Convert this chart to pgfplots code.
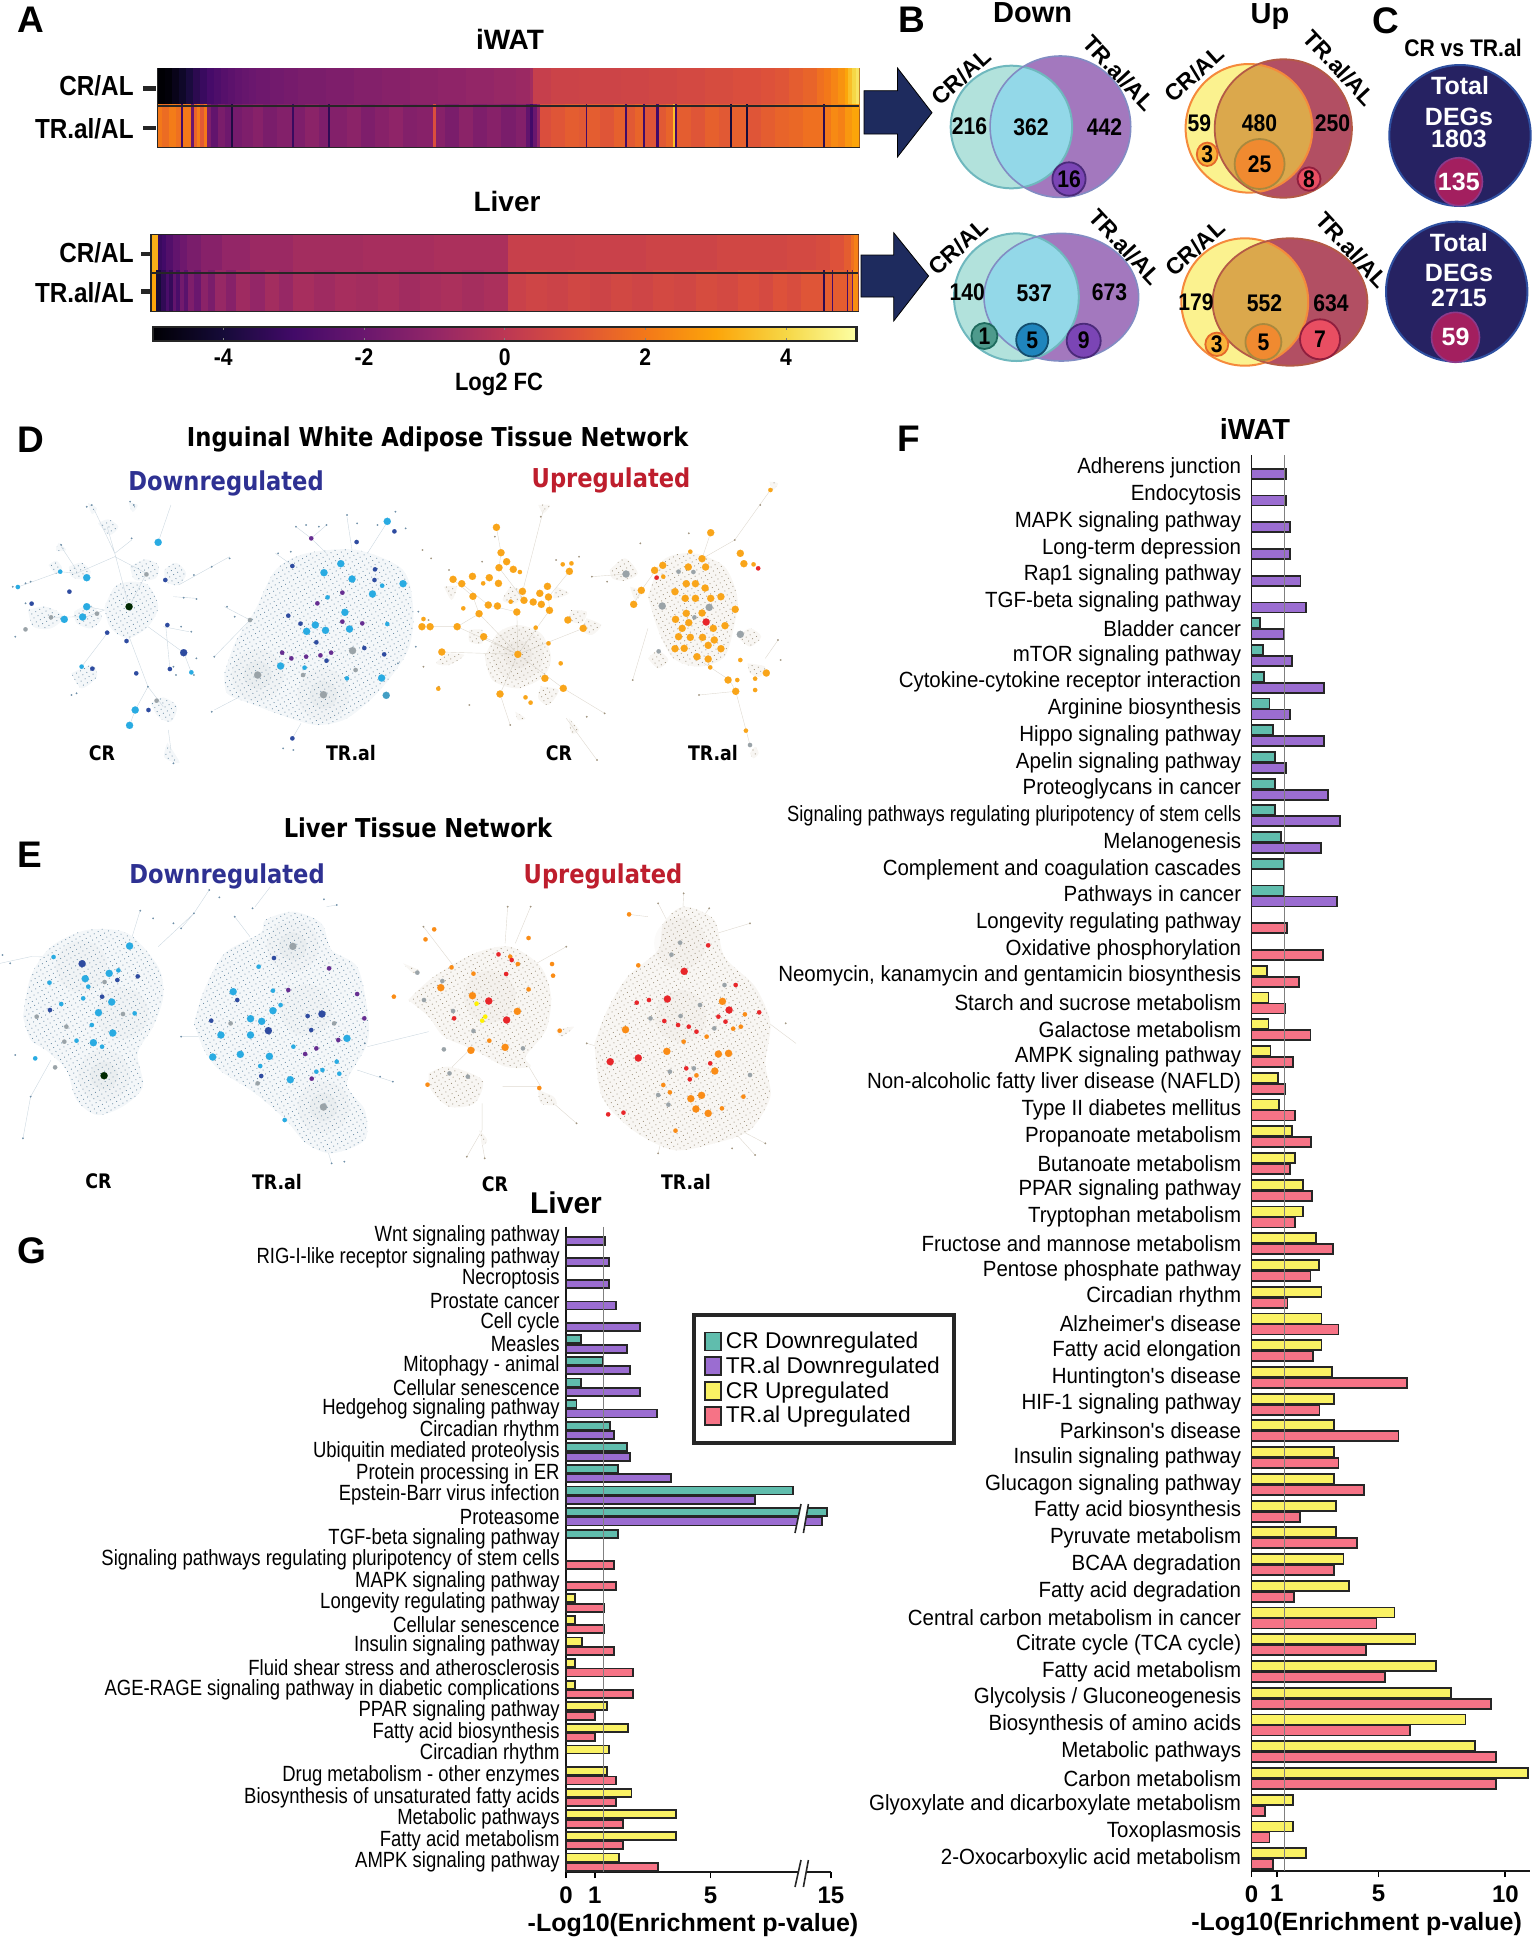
\documentclass[border=0pt]{standalone}
\usepackage{fontspec}
\usepackage{pgfplots}
\pgfplotsset{compat=1.18}
\usetikzlibrary{patterns.meta}
\setmainfont{Liberation Sans}
\newfontfamily\nar[FakeStretch=.93]{Liberation Sans}
\newfontfamily\narg[FakeStretch=.84]{Liberation Sans}
\newfontface\nb[FakeStretch=.88]{Liberation Sans Bold}
\newfontface\net[FakeStretch=.87]{DejaVu Sans Bold}
\newcommand\fs[1]{\fontsize{#1}{#1}\selectfont}
\definecolor{bteal}{HTML}{60BDAD}\definecolor{bpurp}{HTML}{9B6DD1}\definecolor{byell}{HTML}{FAF264}\definecolor{bred}{HTML}{F67386}
\definecolor{nblue}{HTML}{29ABE2}\definecolor{ndark}{HTML}{2E4BA0}\definecolor{npurp}{HTML}{662D91}\definecolor{ngray}{HTML}{9AA3A8}
\definecolor{nor}{HTML}{F9A51A}\definecolor{nred}{HTML}{E8262A}
\definecolor{paleD}{HTML}{F4F7F9}\definecolor{paleU}{HTML}{F8F6F3}\definecolor{dotD}{HTML}{6E8FA8}\definecolor{dotU}{HTML}{A0947F}
\definecolor{navy}{HTML}{1E2B5E}
\pgfdeclareplotmark{cell}{\pgfpathrectangle{\pgfpoint{0pt}{-11pt}}{\pgfpoint{45pt}{22pt}}\pgfusepathqfill}
\pgfplotsset{
 colormap={inferno}{rgb255=(0,0,4) rgb255=(22,11,57) rgb255=(66,10,104) rgb255=(106,23,110) rgb255=(147,38,103) rgb255=(188,55,84) rgb255=(221,81,58) rgb255=(243,120,25) rgb255=(252,165,10) rgb255=(246,215,70) rgb255=(252,255,164)},
 heat/.style={anchor=north west,scale only axis,xmin=0,xmax=100,y dir=reverse,ticks=none,axis line style={line width=1.1pt,black!85},colormap name=inferno,point meta min=-5,point meta max=5,clip marker paths=true},
 strip/.style={scatter,only marks,scatter src=explicit,mark=cell,scatter/use mapped color={fill=mapped color,draw=none}},
 netax/.style={anchor=north west,scale only axis,hide axis,y dir=reverse,clip=false,unbounded coords=jump,xmin=0,xmax=1568,ymin=0,ymax=1200,width=400pt,height=200pt},
 blobD/.style={draw=none,smooth,tension=.5,preaction={fill=paleD},pattern={Dots[distance=2.3pt,radius=.3pt,angle=30]},pattern color=dotD},
 blobU/.style={draw=none,smooth,tension=.5,preaction={fill=paleU},pattern={Dots[distance=2.3pt,radius=.3pt,angle=30]},pattern color=dotU},
 edgeD/.style={draw=paleD!70!dotD,fill=none,line width=.2pt},
 edgeU/.style={draw=paleU!70!dotU,fill=none,line width=.2pt},
 big/.style={only marks,mark=*,mark size=1.8pt,mark options={fill=#1,draw=#1,line width=.05pt}},
 med/.style={only marks,mark=*,mark size=1.1pt,mark options={fill=#1,draw=#1,line width=.05pt}},
 tiny/.style={only marks,mark=*,mark size=.42pt,mark options={fill=#1,draw=#1,line width=.05pt}},
 glow/.style={only marks,mark=*,mark size=13pt,mark options={fill=#1,draw=none,line width=0pt,opacity=.045,draw opacity=0}},
 glowb/.style={only marks,mark=*,mark size=7pt,mark options={fill=#1,draw=none,line width=0pt,opacity=.06,draw opacity=0}},
 barax/.style={anchor=north west,scale only axis,y dir=reverse,axis x line*=bottom,axis y line*=left,axis line style={line width=.9pt,black!90},
   tick align=outside,major tick length=3pt,tick style={line width=.9pt,black},ytick style={draw=none},
   xticklabel style={font=\bfseries\fs{12},inner sep=0pt,yshift=-4pt},
   clip=false},
 bb/.style={xbar,bar width=#1,draw=black!85,line width=.9pt},
}
\newcommand\T[4]{\node[inner sep=0pt,#1] at (#2,#3) {#4};}
\newcommand\El[4]{(#1,#2) ellipse [x radius=#3,y radius=#4]}
\begin{document}
\begin{tikzpicture}
\path[use as bounding box] (0pt,0pt) rectangle (766pt,-969.5pt);
%% ---------- A heat strips
\begin{axis}[heat,at={(79pt,-34.35pt)},width=350.5pt,height=39pt,ymin=68.7,ymax=146.7]
\addplot[strip] table[x index=0,y expr=87.3,meta index=1,row sep=\\]{
0 -5\\1 -4.9\\2 -4.6\\3 -4.3\\4 -3.9\\5 -3.5\\6 -3.2\\7 -2.9\\8 -2.7\\9 -2.5\\10 -2.35\\11 -2.2\\12 -2.1\\13 -2\\14 -1.9\\16 -1.8\\18 -1.7\\20 -1.6\\24 -1.5\\28 -1.4\\32 -1.3\\36 -1.2\\40 -1.1\\44 -1\\48 -.9\\51 -.8\\53 -.6\\53.5 .3\\56 .45\\60 .5\\66 .55\\70 .6\\74 .7\\78 .8\\82 .9\\86 1\\88 1.1\\90 1.3\\92 1.5\\94 1.8\\95 2\\96 2.3\\97 2.6\\98 3\\98.5 3.5\\99 4\\99.5 4.3\\};
\addplot[strip] table[x index=0,y expr=126.3,meta index=1,row sep=\\]{
0 2\\.5 1.7\\1.5 2.1\\2.5 1.8\\3.3 -3\\3.6 2\\4.7 -2\\5.1 1.5\\5.5 2.1\\6 1.2\\6.5 2\\7 -1.5\\7.5 -2.2\\8.5 -1.6\\9.5 -1.9\\10.4 -3.8\\10.7 -1.7\\12 -1.5\\13.5 -1.3\\15 -1.6\\17 -1.4\\19.1 -3.2\\19.4 -1.5\\21 -1.2\\23 -1.5\\24.2 -3.4\\24.5 -1.4\\27 -1.2\\29 -1.5\\31 -1.3\\33 -1.1\\35 -1.4\\37 -1.3\\39.3 .9\\39.6 -1.3\\41 -1.6\\43 -1.2\\45 -1.5\\47 -1.3\\49 -1.6\\51 -1.4\\52.5 -2.2\\53 -3\\53.5 -2\\54 -1\\54.5 .9\\56 1.1\\58 1.3\\60 1.2\\61 -3\\61.2 1.3\\63 1.1\\65 1.4\\66.6 -3\\66.9 1.2\\68 1.5\\69.2 -3\\69.5 1.1\\71.1 -3\\71.4 1.2\\72.5 1.5\\73.5 3.5\\73.8 -3\\74 1.3\\76 1.1\\78 1.4\\80 1.2\\81.6 -4\\81.9 1.4\\83.9 -4\\84.2 1.1\\86 1.3\\88 1.5\\90 1.6\\92 1.8\\94.9 -3.5\\95.2 2\\96 2.4\\97 2.2\\98 2.7\\99 3\\};
\addplot[black!85,line width=1.1pt] coordinates {(0,106)(100,106)};
\end{axis}
\begin{axis}[heat,at={(75.75pt,-117.5pt)},width=353.25pt,height=37.85pt,ymin=235,ymax=310.7,
 colorbar horizontal,colorbar style={at={(.002,-.215)},anchor=north west,scale only axis,width=351.75pt,height=7pt,xtick={-4,-2,0,2,4},xticklabels={-4,-2,0,2,4},axis line style={line width=1.1pt,black!85},major tick length=1.5pt,xtick align=inside,xticklabel style={font=\nb\fs{12},yshift=-3.8pt,inner sep=0pt}}]
\addplot[strip] table[x index=0,y expr=254,meta index=1,row sep=\\]{
0 3.2\\.9 -3.2\\1.5 -3\\2 -2.6\\3 -2.2\\4 -1.9\\5 -1.6\\7 -1.3\\10 -1\\14 -.8\\20 -.6\\30 -.5\\40 -.4\\50.4 .35\\60 .4\\70 .5\\80 .6\\90 .7\\94 .8\\96 1\\98 1.3\\99 1.8\\99.5 2.2\\};
\addplot[strip] table[x index=0,y expr=291.7,meta index=1,row sep=\\]{
0 3\\.6 -4\\1 -4\\1.4 -3.4\\2 -2.8\\2.5 -3.3\\3 -2.2\\3.5 -2.8\\4 -1.8\\4.6 -2.4\\5.2 -1.5\\6 -2\\7 -1.2\\8 -1.6\\9 -.9\\10.5 -1.3\\12 -.7\\14 -1\\16 -.6\\18 -.9\\20 -.5\\23 -.7\\26 -.5\\29 -.6\\32 -.45\\35 -.65\\38 -.5\\41 -.4\\44 -.55\\47 -.4\\50.4 .4\\53 .55\\56 .45\\59 .6\\62 .5\\65 .65\\68 .55\\71 .7\\74 .6\\77 .8\\80 .7\\83 .9\\86 .75\\88 1\\90 .85\\92 1.1\\95.1 -3.5\\95.3 1.3\\96.3 -3\\96.5 1.3\\98.4 -3\\98.6 1.6\\99.1 -2\\99.3 2.5\\};
\addplot[black!85,line width=1.1pt] coordinates {(0,272.7)(100,272.7)};
\end{axis}
%% ---------- D networks
\begin{axis}[netax,at={(0pt,-205pt)}]
\addplot[blobD] coordinates {(205,590)(225,530)(255,515)(290,525)(310,590)(290,650)(250,685)(215,650)(205,590)(nan,nan)(255,470)(285,448)(310,465)(305,505)(265,510)(255,470)(nan,nan)(322,480)(345,458)(365,490)(350,525)(325,515)(322,480)(nan,nan)(135,470)(160,458)(178,485)(165,508)(140,500)(135,470)(nan,nan)(95,465)(110,452)(122,475)(110,492)(95,465)(nan,nan)(192,340)(212,328)(232,350)(215,375)(192,340)(nan,nan)(55,600)(90,590)(125,620)(100,655)(65,650)(55,600)(nan,nan)(145,605)(175,585)(200,620)(180,655)(150,640)(145,605)(nan,nan)(140,790)(180,765)(190,800)(160,835)(140,790)(nan,nan)(295,880)(320,862)(347,890)(335,935)(310,920)(295,880)(nan,nan)(172,278)(190,295)(180,312)(172,278)(nan,nan)(252,278)(270,285)(260,306)(252,278)(nan,nan)(115,398)(130,420)(110,422)(115,398)(nan,nan)(328,998)(352,1058)(322,1042)(328,998)};
\addplot[edgeD] coordinates {(253,590)(287,490)(nan,nan)(150,490)(225,440)(287,490)(nan,nan)(225,430)(210,350)(nan,nan)(225,430)(185,300)(nan,nan)(258,390)(225,430)(nan,nan)(310,397)(335,285)(nan,nan)(225,430)(253,590)(nan,nan)(170,590)(205,600)(nan,nan)(100,622)(170,620)(205,600)(nan,nan)(35,531)(118,485)(150,490)(nan,nan)(120,410)(150,480)(nan,nan)(253,680)(290,830)(320,890)(nan,nan)(290,830)(265,900)(254,946)(nan,nan)(330,960)(335,1020)(nan,nan)(290,650)(360,728)(375,787)(nan,nan)(320,650)(370,665)(nan,nan)(210,670)(160,770)(nan,nan)(340,560)(385,565)(nan,nan)(350,525)(450,440)(nan,nan)(325,650)(333,777)};
\addplot[tiny=dotD] coordinates {(180,285)(262,285)(120,405)(258,385)(50,520)(25,530)(60,515)(30,680)(50,660)(50,580)(380,495)(415,470)(450,445)(355,650)(385,567)(360,563)(375,665)(385,745)(340,770)(380,795)(345,795)(150,850)(140,855)(340,1060)(290,830)(170,290)(255,275)};
\addplot[big=nblue] coordinates {(170,503)(170,590)(126,628)(162,621)(310,397)(265,900)(254,946)};
\addplot[med=nblue] coordinates {(118,485)(35,531)(160,770)(375,787)};
\addplot[med=ndark] coordinates {(324,510)(136,545)(62,581)(333,777)(181,776)(267,790)(328,645)(210,668)(248,693)(291,900)};
\addplot[big=ndark] coordinates {(360,728)};
\addplot[med=ngray] coordinates {(100,622)(287,493)(190,611)(307,872)(50,658)};
\addplot[big=black!60!green!40!black] coordinates {(253,590)};
\addplot[blobD] coordinates {(440,790)(460,700)(500,600)(540,480)(600,430)(700,420)(790,480)(810,600)(800,720)(745,840)(680,925)(620,945)(560,920)(490,880)(445,850)(440,790)};
\addplot[glow=ngray] coordinates {(505,795)(634,854)};
\addplot[glowb=ngray] coordinates {(505,795)(634,854)};
\addplot[edgeD] coordinates {(610,385)(640,430)(nan,nan)(760,334)(720,430)(nan,nan)(680,320)(690,420)(nan,nan)(573,985)(590,940)(nan,nan)(490,630)(440,590)(nan,nan)(540,430)(575,468)(nan,nan)(420,900)(470,860)(nan,nan)(490,630)(420,740)(nan,nan)(580,350)(610,385)(640,345)};
\addplot[tiny=dotD] coordinates {(580,350)(600,345)(625,350)(640,345)(680,315)(700,340)(740,345)(775,305)(795,355)(545,430)(570,425)(555,1015)(575,1020)(415,905)(420,740)(445,590)(460,620)(780,760)(815,710)(820,605)};
\addplot[big=nblue] coordinates {(668,461)(635,488)(690,507)(790,521)(730,552)(618,645)(601,664)(638,661)(676,607)(685,657)(550,768)(748,804)(759,334)};
\addplot[big=nblue!70!gray] coordinates {(757,856)};
\addplot[med=nblue] coordinates {(642,562)(759,642)(749,527)(597,773)(680,805)};
\addplot[med=ndark] coordinates {(573,468)(735,478)(734,510)(699,396)(565,617)(589,641)(620,697)(714,714)(640,752)(753,733)(773,364)(573,985)};
\addplot[med=npurp] coordinates {(610,385)(671,548)(622,580)(671,635)(553,728)(628,736)(600,740)(649,728)(710,640)(571,745)};
\addplot[big=ngray] coordinates {(505,795)(634,854)(691,722)};
\addplot[med=ngray] coordinates {(490,630)(594,795)(697,780)};
\addplot[blobU] coordinates {(950,740)(975,670)(1015,645)(1060,670)(1080,740)(1065,800)(1015,835)(965,810)(950,740)(nan,nan)(870,530)(895,530)(885,570)(870,530)(nan,nan)(1000,530)(1030,545)(1010,580)(985,570)(1000,530)(nan,nan)(1090,530)(1115,550)(1085,565)(1090,530)(nan,nan)(1120,600)(1150,605)(1140,640)(1115,630)(1120,600)(nan,nan)(1150,625)(1178,645)(1160,675)(1140,660)(1150,625)(nan,nan)(920,660)(945,660)(945,700)(920,695)(920,660)(nan,nan)(1060,830)(1095,840)(1075,885)(1055,865)(1060,830)(nan,nan)(875,730)(910,735)(880,765)(855,760)(875,730)(nan,nan)(1055,285)(1078,285)(1065,310)(1055,285)(nan,nan)(1115,925)(1135,960)(1120,970)(1115,925)(nan,nan)(1010,905)(1030,925)(1015,930)(1010,905)};
\addplot[glow=dotU] coordinates {(1015,733)};
\addplot[glowb=dotU] coordinates {(1015,733)};
\addplot[edgeU] coordinates {(1015,733)(948,680)(nan,nan)(1015,733)(896,650)(nan,nan)(1015,733)(1013,606)(nan,nan)(1015,733)(1077,601)(nan,nan)(1015,733)(939,611)(nan,nan)(1015,733)(1143,655)(nan,nan)(1015,733)(1104,835)(nan,nan)(1015,733)(980,852)(nan,nan)(1015,733)(866,726)(nan,nan)(1065,300)(1025,540)(nan,nan)(973,352)(982,428)(978,473)(1027,571)(nan,nan)(888,508)(927,559)(939,611)(896,650)(843,650)(nan,nan)(905,521)(957,585)(1013,606)(nan,nan)(1116,484)(1075,561)(1077,601)(nan,nan)(1104,835)(1185,910)(nan,nan)(1110,925)(1170,1050)(nan,nan)(980,852)(1000,945)};
\addplot[tiny=dotU] coordinates {(828,420)(845,445)(880,480)(945,455)(1090,450)(1135,440)(840,630)(860,830)(920,885)(1000,945)(1185,910)(1170,1050)(1150,920)(970,380)(1060,320)(830,770)};
\addplot[big=nor] coordinates {(973,352)(982,428)(993,455)(978,473)(1006,478)(1116,484)(888,508)(905,521)(926,499)(959,503)(977,520)(1073,529)(1024,544)(927,559)(1075,561)(1027,571)(1045,576)(1061,583)(957,585)(975,588)(939,611)(1013,606)(1077,601)(827,650)(843,650)(896,650)(948,680)(1143,655)(1113,630)(1015,733)(980,852)(1104,835)(1068,805)(866,726)(1058,550)};
\addplot[med=nor] coordinates {(1103,463)(1120,460)(1040,878)(1030,862)(1019,486)(947,520)(1001,575)(908,595)(830,627)(859,836)(1099,760)(1050,653)(1075,700)};
\addplot[blobU] coordinates {(1270,560)(1300,450)(1360,430)(1420,470)(1445,560)(1440,640)(1420,740)(1370,770)(1320,745)(1290,660)(1270,560)(nan,nan)(1195,480)(1225,445)(1250,490)(1225,512)(1200,505)(1195,480)(nan,nan)(1235,530)(1260,545)(1245,570)(1235,530)(nan,nan)(1445,680)(1470,655)(1492,680)(1470,710)(1445,680)(nan,nan)(1270,745)(1290,722)(1310,750)(1290,775)(1270,745)(nan,nan)(1465,760)(1500,770)(1490,800)(1470,790)(1465,760)(nan,nan)(1470,1030)(1480,1010)(1487,1030)(1477,1045)(1470,1030)(nan,nan)(1508,215)(1525,220)(1515,240)(1508,215)};
\addplot[edgeU] coordinates {(1510,240)(1440,390)(1376,446)(nan,nan)(1393,368)(1376,446)(nan,nan)(1227,492)(1160,500)(nan,nan)(1242,583)(1257,541)(1290,470)(nan,nan)(1270,655)(1240,810)(nan,nan)(1380,760)(1430,810)(1442,844)(1470,1005)(nan,nan)(1442,844)(1370,855)(nan,nan)(1500,745)(1525,690)};
\addplot[tiny=dotU] coordinates {(1440,390)(1490,285)(1160,500)(1190,515)(1240,810)(1370,855)(1525,690)(1462,962)(1255,400)(1350,370)(1530,750)};
\addplot[big=nor] coordinates {(1393,368)(1451,430)(1376,446)(1299,466)(1283,481)(1349,471)(1383,471)(1345,521)(1363,521)(1382,534)(1323,545)(1343,565)(1363,565)(1393,565)(1413,560)(1441,598)(1458,461)(1242,583)(1257,541)(1345,610)(1376,609)(1324,628)(1350,638)(1398,655)(1337,655)(1421,647)(1330,680)(1353,682)(1377,682)(1400,690)(1323,716)(1341,715)(1388,706)(1413,716)(1366,740)(1388,747)(1427,810)(1442,844)(1502,789)};
\addplot[med=nor] coordinates {(1477,463)(1480,806)(1392,772)(1451,750)(1510,240)(1353,425)(1300,500)(1445,810)(1480,840)(1462,962)};
\addplot[big=nred] coordinates {(1384,636)};
\addplot[med=nred] coordinates {(1486,475)(1287,503)};
\addplot[big=ngray] coordinates {(1227,492)(1451,673)(1298,588)(1390,592)};
\addplot[med=ngray] coordinates {(1330,485)(1359,486)(1291,724)(1361,622)(1470,1005)};
\end{axis}
%% ---------- E networks
\begin{axis}[netax,at={(0pt,-405pt)}]
\addplot[edgeD] coordinates {(310,410)(380,310)(410,240)(nan,nan)(355,355)(380,310)(nan,nan)(60,860)(45,985)(nan,nan)(60,860)(100,750)(nan,nan)(0,460)(60,440)(105,441)(nan,nan)(275,300)(255,400)(nan,nan)(500,290)(530,230)(nan,nan)(640,290)(660,285)(nan,nan)(720,710)(840,665)(nan,nan)(770,815)(700,780)(nan,nan)(355,680)(400,680)(nan,nan)(460,320)(490,380)(nan,nan)(650,1060)(640,1010)};
\addplot[blobD] coordinates {(45,620)(60,500)(100,410)(170,360)(250,370)(310,470)(320,560)(300,650)(270,730)(280,830)(240,890)(190,915)(150,870)(130,780)(90,720)(60,690)(45,620)(nan,nan)(380,640)(400,540)(440,430)(510,370)(520,330)(575,305)(630,340)(650,420)(700,470)(720,600)(720,700)(680,820)(715,900)(715,990)(650,1030)(600,1000)(560,930)(500,850)(430,780)(400,720)(380,640)};
\addplot[glow=ngray] coordinates {(204,797)(160,470)(240,610)(574,409)(634,891)(600,600)};
\addplot[glowb=ngray] coordinates {(204,797)(574,409)(634,891)};
\addplot[tiny=dotD] coordinates {(410,240)(430,262)(495,295)(380,310)(355,355)(340,340)(45,985)(60,860)(20,460)(5,435)(275,302)(300,325)(660,285)(635,268)(460,320)(650,1060)(675,1055)(770,815)(745,800)(715,700)(355,680)(30,735)};
\addplot[big=nblue] coordinates {(254,408)(214,490)(167,506)(193,608)(219,576)(221,669)(183,698)(457,545)(491,626)(513,634)(535,602)(433,675)(491,675)(417,741)(471,733)(528,739)(569,809)(680,685)};
\addplot[med=nblue] coordinates {(97,518)(120,582)(264,610)(150,692)(200,710)(69,745)(105,441)(232,481)(173,530)(163,565)(180,645)(507,470)(535,542)(550,585)(660,755)(665,791)(575,710)(620,785)(510,768)(632,780)(558,930)};
\addplot[big=ndark] coordinates {(161,461)(526,662)(631,612)};
\addplot[med=ndark] coordinates {(270,499)(98,600)(200,560)(230,510)(465,570)(414,632)(512,798)(603,618)(537,444)(610,660)};
\addplot[med=npurp] coordinates {(645,475)(700,552)(714,625)(663,690)(598,732)(611,806)(620,715)(565,540)};
\addplot[med=ngray] coordinates {(241,612)(205,516)(72,620)(130,650)(505,820)(452,640)(655,640)(126,695)(108,772)};
\addplot[big=ngray] coordinates {(574,409)(634,891)};
\addplot[big=black!60!green!40!black] coordinates {(204,797)};
\addplot[edgeU] coordinates {(945,880)(945,960)(915,1040)(nan,nan)(985,830)(1055,830)(nan,nan)(1085,880)(1130,940)(nan,nan)(995,290)(990,400)(nan,nan)(1040,290)(1010,400)(nan,nan)(1110,410)(1040,470)(nan,nan)(830,350)(890,470)(nan,nan)(1025,740)(1060,830)(nan,nan)(920,720)(880,780)(nan,nan)(950,1045)(945,1000)(nan,nan)(1290,280)(1330,400)(nan,nan)(1340,250)(1335,400)(nan,nan)(1390,295)(1340,400)(nan,nan)(1470,340)(1340,400)(nan,nan)(1232,313)(1270,320)(nan,nan)(1500,1000)(1400,920)(nan,nan)(1290,1030)(1310,900)(nan,nan)(1480,1035)(1400,900)(nan,nan)(1150,700)(1250,744)(nan,nan)(1560,700)(1490,620)};
\addplot[blobU] coordinates {(800,570)(850,500)(930,430)(1000,410)(1060,470)(1080,560)(1070,660)(1030,740)(1040,770)(990,770)(930,720)(870,680)(840,620)(800,570)(nan,nan)(840,790)(880,770)(945,810)(930,880)(880,890)(845,840)(840,790)(nan,nan)(1055,840)(1085,860)(1090,885)(1060,880)(1055,840)(nan,nan)(790,460)(820,480)(810,490)(790,460)(nan,nan)(1090,660)(1125,650)(1100,680)(1090,660)(nan,nan)(940,960)(955,990)(945,1005)(940,960)(nan,nan)(1165,700)(1190,600)(1230,500)(1290,420)(1300,340)(1340,290)(1400,330)(1420,440)(1480,530)(1510,640)(1500,760)(1510,860)(1470,960)(1400,1000)(1320,1020)(1240,960)(1180,860)(1165,700)};
\addplot[glow=dotU] coordinates {(960,560)(1334,618)(1333,400)};
\addplot[tiny=dotU] coordinates {(995,290)(1040,290)(830,350)(1110,410)(915,1040)(950,1045)(1130,940)(1290,280)(1340,250)(1390,295)(1470,340)(1500,1000)(1290,1030)(1480,1035)(1150,700)(1540,640)(1435,1015)};
\addplot[big=nor!85!red] coordinates {(864,533)(926,557)(1014,604)(990,712)(923,721)(1416,574)(1226,659)(1307,724)(1428,730)(1408,732)(1401,783)(1375,856)(1354,866)(1364,897)(1388,910)};
\addplot[med=nor!85!red] coordinates {(834,388)(851,358)(928,491)(1036,384)(1082,462)(1084,497)(1036,538)(959,692)(1057,834)(838,824)(1000,440)(1015,462)(885,472)(772,560)(1097,662)(1313,847)(1300,825)(1415,895)(1251,466)(1233,313)(1324,962)(1340,695)(1385,680)(1437,656)(1452,650)(1460,613)(1365,796)(1457,860)};
\addplot[big=nred] coordinates {(958,573)(993,630)(1341,484)(1308,567)(1429,600)(1251,744)(1196,755)};
\addplot[med=nred] coordinates {(992,492)(977,433)(890,625)(1003,450)(1329,645)(1350,650)(1365,665)(1248,578)(1272,570)(1408,620)(1422,635)(1302,633)(1488,607)(1192,913)(1222,908)(1345,775)(1392,760)(1352,808)(1388,406)(1442,525)};
\addplot[med=yellow] coordinates {(934,581)(951,620)(945,632)};
\addplot[med=ngray] coordinates {(888,603)(818,488)(831,570)(928,663)(870,718)(881,790)(917,800)(1025,715)(867,513)(1333,398)(1334,618)(1316,434)(1372,585)(1275,625)(1313,785)(1310,884)(1470,795)(1290,855)(1360,775)(1420,525)(1400,655)};
\end{axis}
%% ---------- F bars
\begin{axis}[barax,at={(625.75pt,-227.5pt)},width=139pt,height=708pt,xmin=0,xmax=10.95,ymin=.506,ymax=53.46,
 xtick={0,1,5,10},xticklabels={0,1,5,10},ytick={1,...,53},
 yticklabel style={font=\nar\fs{11},inner sep=0pt,xshift=-2pt},
 yticklabels={Adherens junction,Endocytosis,MAPK signaling pathway,Long-term depression,Rap1 signaling pathway,TGF-beta signaling pathway,Bladder cancer,mTOR signaling pathway,Cytokine-cytokine receptor interaction,Arginine biosynthesis,Hippo signaling pathway,Apelin signaling pathway,Proteoglycans in cancer,\scalebox{.895}[1]{Signaling pathways regulating pluripotency of stem cells},Melanogenesis,Complement and coagulation cascades,Pathways in cancer,Longevity regulating pathway,Oxidative phosphorylation,{Neomycin, kanamycin and gentamicin biosynthesis},Starch and sucrose metabolism,Galactose metabolism,AMPK signaling pathway,Non-alcoholic fatty liver disease (NAFLD),Type II diabetes mellitus,Propanoate metabolism,Butanoate metabolism,PPAR signaling pathway,Tryptophan metabolism,Fructose and mannose metabolism,Pentose phosphate pathway,Circadian rhythm,Alzheimer's disease,Fatty acid elongation,Huntington's disease,HIF-1 signaling pathway,Parkinson's disease,Insulin signaling pathway,Glucagon signaling pathway,Fatty acid biosynthesis,Pyruvate metabolism,BCAA degradation,Fatty acid degradation,Central carbon metabolism in cancer,Citrate cycle (TCA cycle),Fatty acid metabolism,Glycolysis / Gluconeogenesis,Biosynthesis of amino acids,Metabolic pathways,Carbon metabolism,Glyoxylate and dicarboxylate metabolism,Toxoplasmosis,2-Oxocarboxylic acid metabolism}]
\addplot[bb=5pt,fill=bteal,bar shift=2.75pt] coordinates {(.33,7)(.46,8)(.5,9)(.71,10)(.86,11)(.94,12)(.94,13)(.94,14)(1.17,15)(1.26,16)(1.26,17)};
\addplot[bb=5pt,fill=bpurp,bar shift=-2.75pt] coordinates {(1.36,1)(1.36,2)(1.51,3)(1.51,4)(1.93,5)(2.15,6)(1.28,7)(1.59,8)(2.84,9)(1.51,10)(2.84,11)(1.36,12)(3,13)(3.47,14)(2.74,15)(3.37,17)};
\addplot[bb=5pt,fill=byell,bar shift=2.75pt] coordinates {(.61,20)(.67,21)(.67,22)(.75,23)(1.03,24)(1.09,25)(1.61,26)(1.72,27)(2.03,28)(2.03,29)(2.53,30)(2.66,31)(2.76,32)(2.76,33)(2.76,34)(3.18,35)(3.26,36)(3.26,37)(3.26,38)(3.26,39)(3.33,40)(3.33,41)(3.62,42)(3.85,43)(5.63,44)(6.46,45)(7.28,46)(7.87,47)(8.43,48)(8.81,49)(10.88,50)(1.63,51)(1.63,52)(2.16,53)};
\addplot[bb=5pt,fill=bred,bar shift=-2.75pt] coordinates {(1.4,18)(2.82,19)(1.86,20)(1.32,21)(2.32,22)(1.65,23)(1.32,24)(1.7,25)(2.34,26)(1.53,27)(2.38,28)(1.7,29)(3.22,30)(2.32,31)(1.42,32)(3.43,33)(2.41,34)(6.11,35)(2.68,36)(5.79,37)(3.43,38)(4.44,39)(1.9,40)(4.16,41)(3.26,42)(1.67,43)(4.92,44)(4.52,45)(5.25,46)(9.44,47)(6.25,48)(9.64,49)(9.64,50)(.54,51)(.71,52)(.86,53)};
\addplot[black!50,line width=.5pt,forget plot] coordinates {(1.3,.506)(1.3,53.46)};
\end{axis}
%% ---------- G bars
\begin{axis}[barax,at={(283pt,-613.35pt)},width=132.5pt,height=322.8pt,xmin=0,xmax=9.17,ymin=.569,ymax=30.47,
 xtick={0,1,5,9.17},xticklabels={0,1,5,15},ytick={1,...,30},
 yticklabel style={font=\narg\fs{11},inner sep=0pt,xshift=0pt},
 legend style={at={(axis cs:4.36,4.55)},anchor=north west,draw=black!85,line width=2pt,font=\fs{11.4},cells={anchor=west},row sep=-1.3pt,inner xsep=5pt,inner ysep=6.5pt},
 legend image code/.code={\draw[#1,line width=.9pt] (0pt,-4.5pt) rectangle (8pt,4.5pt);},
 yticklabels={Wnt signaling pathway,RIG-I-like receptor signaling pathway,Necroptosis,Prostate cancer,Cell cycle,Measles,Mitophagy - animal,Cellular senescence,Hedgehog signaling pathway,Circadian rhythm,Ubiquitin mediated proteolysis,Protein processing in ER,Epstein-Barr virus infection,Proteasome,TGF-beta signaling pathway,Signaling pathways regulating pluripotency of stem cells,MAPK signaling pathway,Longevity regulating pathway,Cellular senescence,Insulin signaling pathway,Fluid shear stress and atherosclerosis,AGE-RAGE signaling pathway in diabetic complications,PPAR signaling pathway,Fatty acid biosynthesis,Circadian rhythm,Drug metabolism - other enzymes,Biosynthesis of unsaturated fatty acids,Metabolic pathways,Fatty acid metabolism,AMPK signaling pathway}]
\addplot[bb=4pt,fill=bteal,bar shift=2.35pt] coordinates {(.53,6)(1.29,7)(.53,8)(.36,9)(1.53,10)(2.1,11)(1.8,12)(7.86,13)(9.03,14)(1.8,15)};
\addlegendentry{CR Downregulated}
\addplot[bb=4pt,fill=bpurp,bar shift=-2.35pt] coordinates {(1.36,1)(1.48,2)(1.48,3)(1.72,4)(2.56,5)(2.12,6)(2.22,7)(2.56,8)(3.14,9)(1.67,10)(2.22,11)(3.62,12)(6.55,13)(8.86,14)};
\addlegendentry{TR.al Downregulated}
\addplot[bb=4pt,fill=byell,bar shift=2.35pt] coordinates {(.3,18)(.3,19)(.55,20)(.3,21)(.3,22)(1.42,23)(2.14,24)(1.5,25)(1.42,26)(2.27,27)(3.81,28)(3.81,29)(1.84,30)};
\addlegendentry{CR Upregulated}
\addplot[bb=4pt,fill=bred,bar shift=-2.35pt] coordinates {(1.67,16)(1.72,17)(1.31,18)(1.31,19)(1.65,20)(2.31,21)(2.31,22)(1,23)(1,24)(1.72,26)(1.72,27)(1.97,28)(1.97,29)(3.18,30)};
\addlegendentry{TR.al Upregulated}
\addplot[black!50,line width=.5pt,forget plot] coordinates {(1.31,.569)(1.31,30.47)};
\end{axis}
%% ---------- text, venns, arrows
\begin{scope}[x=.5pt,y=-.5pt]
% panel letters
\T{}{31}{20}{\bfseries\fs{18.5}A}\T{}{912}{20}{\bfseries\fs{18.5}B}\T{}{1386}{21}{\bfseries\fs{18.5}C}
\T{}{31}{440}{\bfseries\fs{18.5}D}\T{}{30}{855}{\bfseries\fs{18.5}E}\T{}{909}{439}{\bfseries\fs{18.5}F}\T{}{32}{1251}{\bfseries\fs{18.5}G}
% A labels
\T{}{510}{39}{\bfseries\fs{14}iWAT}\T{}{507}{201.7}{\bfseries\fs{14}Liver}
\T{anchor=east}{134}{86}{\nb\fs{13.8}CR/AL}\T{anchor=east}{134}{129}{\nb\fs{13.8}TR.al/AL}
\T{anchor=east}{134}{253}{\nb\fs{13.8}CR/AL}\T{anchor=east}{134}{293}{\nb\fs{13.8}TR.al/AL}
\draw[line width=2.3pt,black!85] (143,88.5)--(156,88.5) (143,128)--(156,128) (141,254)--(150,254) (141,291.7)--(150,291.7);
\T{}{499}{384}{\nb\fs{12.5}Log2 FC}
% arrows
\filldraw[fill=navy,draw=black,line width=.4pt] (864,90.7)--(897.5,90.7)--(897.5,68)--(932,112.7)--(897.5,157)--(897.5,134)--(864,134)--cycle;
\filldraw[fill=navy,draw=black,line width=.4pt] (861,255)--(893.7,255)--(893.7,232.7)--(928.6,276)--(893.7,321)--(893.7,297)--(861,297)--cycle;
% B
\T{}{1032.6}{12.3}{\bfseries\fs{14.5}Down}\T{}{1270}{17}{\bfseries\fs{14.5}Up}
\def\VD#1#2#3#4#5#6#7#8{% down venn
 \fill[fill={rgb,255:red,178;green,226;blue,220}] \El{#1}{#2}{#3}{#4};
 \fill[fill={rgb,255:red,163;green,120;blue,190}] \El{#5}{#6}{#7}{#8};
 \begin{scope}\clip \El{#1}{#2}{#3}{#4};\fill[fill={rgb,255:red,147;green,216;blue,232}] \El{#5}{#6}{#7}{#8};\end{scope}
 \draw[line width=1pt,color={rgb,255:red,111;green,184;blue,190}] \El{#1}{#2}{#3}{#4};
 \draw[line width=.8pt,color={rgb,255:red,130;green,140;blue,195}] \El{#5}{#6}{#7}{#8};}
\def\VU#1#2#3#4#5#6#7#8{% up venn
 \fill[fill={rgb,255:red,251;green,242;blue,143}] \El{#1}{#2}{#3}{#4};
 \fill[fill={rgb,255:red,178;green,79;blue,99}] \El{#5}{#6}{#7}{#8};
 \begin{scope}\clip \El{#1}{#2}{#3}{#4};\fill[fill={rgb,255:red,219;green,168;blue,76}] \El{#5}{#6}{#7}{#8};\end{scope}
 \draw[line width=1pt,color={rgb,255:red,245;green,138;blue,60}] \El{#1}{#2}{#3}{#4};
 \draw[line width=.9pt,color={rgb,255:red,180;green,90;blue,70}] \El{#5}{#6}{#7}{#8};}
\newcommand\Sm[6]{\filldraw[fill=#5,draw=#6,line width=.9pt] \El{#1}{#2}{#3}{#4};}
\newcommand\Num[3]{\T{}{#1}{#2}{\nb\fs{12}#3}}
\newcommand\RotL[2]{\T{rotate=42}{#1}{#2}{\bfseries\fs{11.5}CR/AL}}
\newcommand\RotR[2]{\T{rotate=-47}{#1}{#2}{\bfseries\fs{11.5}TR.al/AL}}
\definecolor{spurp}{HTML}{7B45B5}\definecolor{spurpd}{HTML}{4B2A7A}\definecolor{sor}{HTML}{F9B23B}\definecolor{sord}{HTML}{E5692A}\definecolor{sor2}{HTML}{F08A30}\definecolor{sol}{HTML}{A9893E}\definecolor{sred}{HTML}{E94E62}\definecolor{sredd}{HTML}{8F1E3E}\definecolor{steal}{HTML}{4E9A8C}\definecolor{steald}{HTML}{1E6B5E}\definecolor{sblue}{HTML}{1F85BD}\definecolor{sblued}{HTML}{134E6E}
\VD{1011.4}{127}{60.7}{61.3}{1060.4}{126.7}{70.3}{70.7}
\Sm{1069}{179}{16.6}{16.7}{spurp}{spurpd}
\Num{969.4}{126.7}{216}\Num{1031}{127}{362}\Num{1104.5}{127}{442}\Num{1069}{179}{16}
\RotL{961}{76.7}\RotR{1119}{72.7}
\VU{1249}{128.3}{63.4}{64.3}{1283.3}{128.5}{68.6}{69.2}
\Sm{1207.2}{154.3}{10.4}{11.7}{sor}{sord}
\Sm{1259.6}{164}{25}{25}{sor2}{sol}
\Sm{1309}{179}{11.5}{11.7}{sred}{sredd}
\Num{1199.3}{123.3}{59}\Num{1259.6}{123.3}{480}\Num{1332.4}{123.3}{250}\Num{1207.2}{154.3}{3}\Num{1259.6}{164}{25}\Num{1309}{179}{8}
\RotL{1194}{74}\RotR{1339.5}{67.7}
\VD{1016.4}{297.2}{62.4}{63.8}{1061.3}{297.2}{77.3}{63.8}
\Sm{984.4}{336}{13}{13}{steal}{steald}
\Sm{1032.2}{340}{16}{16.5}{sblue}{sblued}
\Sm{1083.7}{340.7}{17}{17}{spurp}{spurpd}
\Num{967.3}{292.3}{140}\Num{1034.3}{293}{537}\Num{1109.5}{292}{673}\Num{984.4}{336}{1}\Num{1032.2}{340}{5}\Num{1083.7}{340.7}{9}
\RotL{958}{246.7}\RotR{1125.3}{246.7}
\VU{1244.8}{302}{63.4}{63.7}{1290}{302}{77.4}{63.7}
\Sm{1216.8}{344.3}{11.5}{11.7}{sor}{sord}
\Sm{1263.4}{342}{18}{18}{sor2}{sol}
\Sm{1320}{339.3}{20}{20}{sred}{sredd}
\Num{1196}{302.3}{179}\Num{1264.6}{303}{552}\Num{1331}{303}{634}\Num{1216.8}{344.3}{3}\Num{1263.4}{342}{5}\Num{1320}{339.3}{7}
\RotL{1195}{248}\RotR{1352}{250}
% C
\T{}{1463}{47.7}{\nb\fs{12}CR vs TR.al}
\definecolor{cnavy}{HTML}{262262}\definecolor{cring}{HTML}{2E4FA0}\definecolor{cmag}{HTML}{A31F5F}\definecolor{cmagr}{HTML}{8B3A8B}
\filldraw[fill=cnavy,draw=cring,line width=1pt] \El{1460}{135.5}{70.7}{70.5};
\filldraw[fill=cnavy,draw=cring,line width=1pt] \El{1456.7}{291.7}{70.7}{70};
\filldraw[fill=cmag,draw=cmagr,line width=.8pt] \El{1458.8}{181.7}{23.7}{24};
\filldraw[fill=cmag,draw=cmagr,line width=.8pt] \El{1455.5}{337.3}{24}{25};
\T{text=white}{1460}{86}{\bfseries\fs{12.5}Total}\T{text=white}{1459}{116.7}{\bfseries\fs{12.5}DEGs}\T{text=white}{1459}{139.3}{\bfseries\fs{12.5}1803}\T{text=white}{1458.8}{181.7}{\bfseries\fs{12.5}135}
\T{text=white}{1458.8}{242.7}{\bfseries\fs{12.5}Total}\T{text=white}{1459}{273.3}{\bfseries\fs{12.5}DEGs}\T{text=white}{1459}{298.3}{\bfseries\fs{12.5}2715}\T{text=white}{1455.5}{337.3}{\bfseries\fs{12.5}59}
% D/E text
\definecolor{tblue}{HTML}{2E3192}\definecolor{tred}{HTML}{BE1E2D}
\T{}{437.7}{439}{\net\fs{13}Inguinal White Adipose Tissue Network}
\T{text=tblue}{226}{483}{\net\fs{13}Downregulated}
\T{text=tred}{611}{480.5}{\net\fs{13}Upregulated}
\T{}{102}{753}{\net\fs{10}CR}\T{}{351}{753}{\net\fs{10}TR.al}\T{}{559}{753}{\net\fs{10}CR}\T{}{713}{753}{\net\fs{10}TR.al}
\T{}{418}{827.7}{\net\fs{13}Liver Tissue Network}
\T{text=tblue}{227}{876.5}{\net\fs{13}Downregulated}
\T{text=tred}{603}{876.5}{\net\fs{13}Upregulated}
\T{}{98.5}{1181.7}{\net\fs{10}CR}\T{}{277}{1181.7}{\net\fs{10}TR.al}\T{}{495}{1184}{\net\fs{10}CR}\T{}{686}{1182}{\net\fs{10}TR.al}
% F/G titles
\T{}{1255}{429}{\bfseries\fs{14.5}iWAT}\T{}{566}{1203}{\bfseries\fs{15}Liver}
\T{}{1356.6}{1924}{\bfseries\fs{12.5}-Log10(Enrichment p-value)}\T{}{693}{1925}{\bfseries\fs{12.5}-Log10(Enrichment p-value)}
% axis breaks
\fill[white] (795,1533)--(801,1504)--(808.4,1504)--(803.4,1533)--cycle;
\fill[white] (795,1887)--(801,1860)--(808.4,1860)--(803.4,1887)--cycle;
\draw[line width=.8pt,black!85] (795,1533)--(801,1504) (803.4,1533)--(808.4,1504) (795,1887)--(801,1860) (803.4,1887)--(808.4,1860);
\end{scope}
\end{tikzpicture}
\end{document}
